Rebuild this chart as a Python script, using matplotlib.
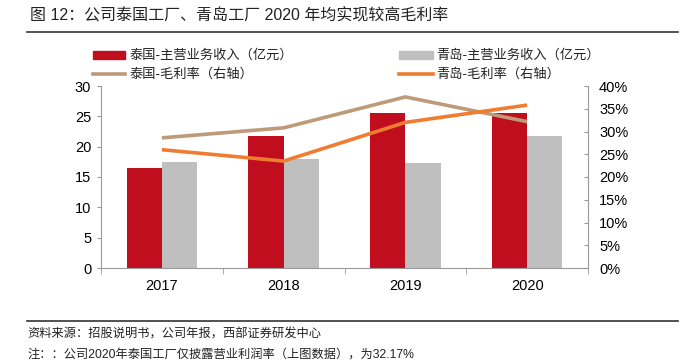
import matplotlib
matplotlib.use("Agg")
import matplotlib.pyplot as plt
from matplotlib.lines import Line2D
from matplotlib.patches import Rectangle
import numpy as np

plt.rcParams['font.family'] = ['Liberation Sans', 'Noto Sans CJK SC', 'DejaVu Sans']
CJK = ['Noto Sans CJK SC', 'DejaVu Sans']

years = ['2017', '2018', '2019', '2020']
thai_rev = [16.5, 21.7, 25.5, 25.5]
qd_rev = [17.4, 17.9, 17.35, 21.8]
thai_margin = [28.6, 30.8, 37.6, 32.17]
qd_margin = [26.0, 23.5, 32.0, 35.8]

title = '图 12：公司泰国工厂、青岛工厂 2020 年均实现较高毛利率'
legend_labels = ['泰国-主营业务收入（亿元）', '青岛-主营业务收入（亿元）',
                 '泰国-毛利率（右轴）', '青岛-毛利率（右轴）']
source = '资料来源：招股说明书，公司年报，西部证券研发中心'
note = '注：：公司2020年泰国工厂仅披露营业利润率（上图数据），为32.17%'

red = '#C00E1E'
gray = '#BFBFBF'
tan = '#BE9A78'
orange = '#EE7D31'

W, H = 686, 363
fig = plt.figure(figsize=(W/100, H/100), dpi=100)
ax = fig.add_axes([101/W, 1-268/H, (588-101)/W, (268-86)/H])
x = np.arange(len(years))
bw = 0.29
ax.bar(x - bw/2, thai_rev, bw, color=red, zorder=2)
ax.bar(x + bw/2, qd_rev, bw, color=gray, zorder=2)
ax.set_xlim(-0.5, len(years)-0.5)
ax.set_ylim(0, 30)
ax.set_yticks(range(0, 31, 5))
ax.set_xticks(x)
ax.set_xticklabels(years)
ax.set_xticks(np.arange(-0.5, len(years), 1), minor=True)
ax.tick_params(axis='x', which='major', length=0, pad=8, labelsize=10.5)
ax.tick_params(axis='x', which='minor', length=4, color='#999999', direction='out')
ax.tick_params(axis='y', length=3, color='#999999', labelsize=10.5, pad=4)
for s in ['top', 'right']:
    ax.spines[s].set_visible(False)
for s in ['left', 'bottom']:
    ax.spines[s].set_color('#999999')

ax2 = ax.twinx()
ax2.plot(x, thai_margin, color=tan, lw=2.6, solid_capstyle='butt')
ax2.plot(x, qd_margin, color=orange, lw=2.6, solid_capstyle='butt')
ax2.set_ylim(0, 40)
ax2.set_yticks(range(0, 41, 5))
ax2.set_yticklabels([f'{v}%' for v in range(0, 41, 5)])
ax2.tick_params(axis='y', length=3, color='#999999', direction='in', labelsize=10.5, pad=8)
for s in ['top', 'left', 'bottom']:
    ax2.spines[s].set_visible(False)
ax2.spines['right'].set_color('#999999')

# title and rules
fig.text(30/W, 1-16/H, title, fontsize=11.5, family=['Liberation Sans', 'Noto Sans CJK SC'], va='center', ha='left', color='#222222')
fig.add_artist(Line2D([27/W, 678/W], [1-32/H, 1-32/H], color='#333333', lw=1.2))
fig.add_artist(Line2D([27/W, 678/W], [1-321/H, 1-321/H], color='#333333', lw=1.2))
fig.text(27/W, 1-334/H, source, fontsize=8.8, family=CJK, va='center', ha='left', color='#222222')
fig.text(27/W, 1-356/H, note, fontsize=8.8, family=['Liberation Sans', 'Noto Sans CJK SC'], va='center', ha='left', color='#222222')

# legend
def patch(x0, x1, yc, c, h):
    fig.add_artist(Rectangle((x0/W, 1-(yc+h/2)/H), (x1-x0)/W, h/H, color=c, transform=fig.transFigure))
patch(93, 125, 55, red, 8)
patch(399, 433, 55, gray, 8)
fig.add_artist(Line2D([93/W, 125/W], [1-74/H, 1-74/H], color=tan, lw=2.6))
fig.add_artist(Line2D([399/W, 433/W], [1-74/H, 1-74/H], color=orange, lw=2.6))
for (tx, ty), lab in zip([(130, 55), (436, 55), (130, 74), (436, 74)], legend_labels):
    fig.text(tx/W, 1-ty/H, lab, fontsize=9.5, family=CJK, va='center', ha='left', color='#222222')

fig.savefig('out.png', dpi=100)
